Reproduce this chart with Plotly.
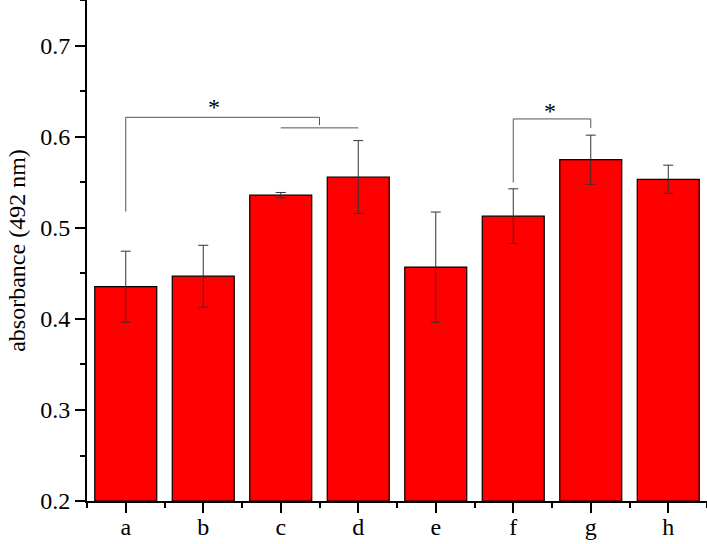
import plotly.graph_objects as go

categories = ["a", "b", "c", "d", "e", "f", "g", "h"]
values = [0.4355, 0.447, 0.536, 0.556, 0.457, 0.513, 0.575, 0.5535]
errors = [0.039, 0.034, 0.003, 0.040, 0.0605, 0.030, 0.027, 0.0155]

# significance brackets (x in category positions, y in data units)
bracket1_x = [0, 0, 2.5, 2.5]
bracket1_y = [0.518, 0.6216, 0.6216, 0.613]
bracket1b_x = [2, 3]
bracket1b_y = [0.610, 0.610]
bracket2_x = [5, 5, 6, 6]
bracket2_y = [0.550, 0.6198, 0.6198, 0.610]
stars = [(1.14, 0.633), (5.47, 0.628)]

xpos = list(range(len(categories)))
font = "Liberation Serif"
line_col = "#555555"

fig = go.Figure()
fig.add_trace(go.Bar(
    x=xpos, y=[v - 0.2 for v in values], base=0.2, width=0.8,
    marker=dict(color="#ff0000", line=dict(color="#000000", width=1.2)),
    error_y=dict(type="data", array=errors, color="#333333", thickness=1, width=5),
    showlegend=False,
))
for bx, by in [(bracket1_x, bracket1_y), (bracket1b_x, bracket1b_y), (bracket2_x, bracket2_y)]:
    fig.add_trace(go.Scatter(x=bx, y=by, mode="lines",
                             line=dict(color=line_col, width=1), showlegend=False,
                             hoverinfo="skip"))
for sx, sy in stars:
    fig.add_annotation(x=sx, y=sy, text="*", showarrow=False,
                       font=dict(family=font, size=24, color="#000"),
                       xanchor="center", yanchor="middle")

fig.update_layout(
    width=707, height=544,
    margin=dict(l=87, r=0, t=0, b=43, autoexpand=False),
    paper_bgcolor="white", plot_bgcolor="white",
    font=dict(family=font, size=24, color="#000"),
    bargap=0.2,
)
fig.update_xaxes(
    range=[-0.5, 7.5], tickmode="array", tickvals=xpos, ticktext=categories,
    showline=True, linecolor="#000", linewidth=2, showgrid=False, zeroline=False,
    ticks="outside", ticklen=10, tickwidth=2, tickcolor="#000",
    tickfont=dict(family=font, size=24), automargin=False, ticklabelstandoff=-7,
    minor=dict(ticks="outside", ticklen=5, tickwidth=2, tickcolor="#000",
               tick0=0.5, dtick=1, showgrid=False),
)
fig.update_yaxes(
    range=[0.2, 0.7505], tick0=0.2, dtick=0.1, tickformat=".1f",
    showline=True, linecolor="#000", linewidth=2, showgrid=False, zeroline=False,
    ticks="outside", ticklen=10, tickwidth=2, tickcolor="#000",
    tickfont=dict(family=font, size=24), automargin=False,
    minor=dict(ticks="outside", ticklen=5, tickwidth=2, tickcolor="#000",
               tick0=0.25, dtick=0.1, showgrid=False),
    title=dict(text="absorbance (492 nm)", font=dict(family=font, size=24), standoff=8),
)

fig.write_html("out.html", config={"displayModeBar": False},
               post_script="document.body.style.margin='0';")
